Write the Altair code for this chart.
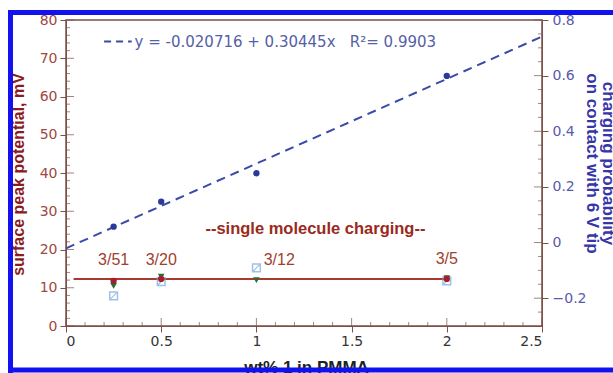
import altair as alt
import pandas as pd

# ---- data ----
wt = [0.25, 0.5, 1.0, 2.0]
prob = [0.057, 0.147, 0.249, 0.599]            # right axis (charging probability)
fit_x = [0.0, 2.5]
fit_y = [-0.0207, 0.7404]                       # dashed fit line endpoints

red_x = [0.25, 0.5, 2.0]
red_y = [11.8, 12.3, 12.3]
green_x = [0.25, 0.5, 1.0, 2.0]
green_y = [10.5, 12.9, 12.0, 12.5]
sq_x = [0.25, 0.5, 1.0, 2.0]
sq_y = [7.9, 11.6, 15.2, 11.8]

mean_x = [0.04, 2.0]
mean_y = [12.3, 12.3]

ratio_labels = ["3/51", "3/20", "3/12", "3/5"]
ratio_x = [0.25, 0.5, 1.12, 2.0]
ratio_y = [17.3, 17.3, 17.3, 17.5]

note_text = ["--single molecule charging--"]
note_x = [1.31]
note_y = [25.4]

eq_text = ["y = -0.020716 + 0.30445x\u00a0\u00a0\u00a0R\u00b2= 0.9903"]
eq_x = [0.36]
eq_y = [74.2]
leg_x = [0.2, 0.345]
leg_y = [74.4, 74.4]

# tick values
x_major = [0, 0.5, 1, 1.5, 2, 2.5]
x_minor = [round(i * 0.1, 2) for i in range(0, 26) if i % 5 != 0]
yl_major = list(range(0, 81, 10))
yl_minor = [v for v in range(0, 81, 2) if v % 10 != 0]
yr_major = [-0.2, 0, 0.2, 0.4, 0.6, 0.8]
yr_minor = [-0.25, -0.15, -0.1, -0.05, 0.05, 0.1, 0.15, 0.25, 0.3, 0.35,
            0.45, 0.5, 0.55, 0.65, 0.7, 0.75]

W, H = 476, 306
BROWN = "#7a5048"
FRAME = "#1212ee"

x_scale = alt.Scale(domain=[0, 2.5], nice=False, zero=False)
yl_scale = alt.Scale(domain=[0, 80], nice=False)
yr_scale = alt.Scale(domain=[-0.3, 0.8], nice=False, zero=False)

x_axis = alt.Axis(
    values=x_major, format="~g", tickSize=6, grid=False,
    domainColor=BROWN, tickColor=BROWN, labelOverlap=False,
    labelColor="#333333", labelFont="DejaVu Sans", labelFontSize=14, labelPadding=2,
    title="wt% 1 in PMMA", titleFont="Liberation Sans", titleFontSize=17,
    titleFontWeight="bold", titleColor="#222222", titleX=240, titleY=33,
    titleBaseline="top", titleAlign="center",
)
yl_axis = alt.Axis(
    values=yl_major, orient="left", tickSize=6, grid=False,
    domainColor=BROWN, tickColor=BROWN, labelOverlap=False,
    labelColor="#a0483e", labelFont="DejaVu Sans", labelFontSize=14, labelPadding=3,
    title="surface peak potential, mV", titleFont="Liberation Sans", titleFontSize=16,
    titleFontWeight="bold", titleColor="#8b1c1c", titleAngle=-90,
    titleX=-48, titleY=154, titleBaseline="middle", titleAlign="center",
)
yr_axis = alt.Axis(
    values=yr_major, orient="right", format="~g", tickSize=6, grid=False,
    domainColor=BROWN, tickColor=BROWN, labelOverlap=False,
    labelColor="#5a5aac", labelFont="DejaVu Sans", labelFontSize=14, labelPadding=4,
    title=["charging probability", "on contact with 6 V tip"], titleFont="Liberation Sans",
    titleFontSize=17, titleFontWeight="bold", titleColor="#3636a8", titleAngle=90,
    titleX=65, titleY=143, titleBaseline="middle", titleAlign="center", titleLineHeight=16,
)

X = alt.X("x:Q", scale=x_scale, axis=x_axis)
YL = alt.Y("y:Q", scale=yl_scale, axis=yl_axis)
YR = alt.Y("y:Q", scale=yr_scale, axis=yr_axis)

# ---- left-axis layer ----
mean_df = pd.DataFrame({"x": mean_x, "y": mean_y})
mean_line = alt.Chart(mean_df).mark_line(color="#a83a30", strokeWidth=2).encode(x=X, y=YL)

sq_df = pd.DataFrame({"x": sq_x, "y": sq_y})
sq = alt.Chart(sq_df).mark_point(shape="square", filled=False, color="#7aa8e0",
                                 strokeWidth=1.5, size=60).encode(x=X, y=YL)
sq_hatch = alt.Chart(sq_df).mark_point(shape="M-0.8,0.8L0.8,-0.8", filled=False,
                                       color="#7aa8e0", strokeWidth=1.2, size=60).encode(x=X, y=YL)

green_df = pd.DataFrame({"x": green_x, "y": green_y})
green = alt.Chart(green_df).mark_point(shape="triangle-down", filled=True, color="#2e6a34",
                                       opacity=1, size=45).encode(x=X, y=YL)

red_df = pd.DataFrame({"x": red_x, "y": red_y})
red = alt.Chart(red_df).mark_point(shape="circle", filled=True, color="#a3202a",
                                   opacity=1, size=40).encode(x=X, y=YL)

ratio_df = pd.DataFrame({"x": ratio_x, "y": ratio_y, "t": ratio_labels})
ratios = alt.Chart(ratio_df).mark_text(font="Liberation Sans", fontSize=16,
                                      color="#a0402e", baseline="middle").encode(
    x=X, y=YL, text="t:N")

note_df = pd.DataFrame({"x": note_x, "y": note_y, "t": note_text})
note = alt.Chart(note_df).mark_text(font="Liberation Sans", fontSize=16.5, fontWeight="bold",
                                   color="#9a2a20", baseline="middle").encode(
    x=X, y=YL, text="t:N")

eq_df = pd.DataFrame({"x": eq_x, "y": eq_y, "t": eq_text})
eq = alt.Chart(eq_df).mark_text(font="DejaVu Sans", fontSize=15, color="#5560a6",
                               align="left", baseline="middle").encode(
    x=X, y=YL, text="t:N")

leg_df = pd.DataFrame({"x": leg_x, "y": leg_y})
leg = alt.Chart(leg_df).mark_line(color="#3a4aa8", strokeWidth=2, strokeDash=[7, 5]).encode(
    x=X, y=YL)

# minor / inner ticks
ylmin_df = pd.DataFrame({"y": yl_minor})
ylmin = alt.Chart(ylmin_df).mark_tick(color=BROWN, thickness=1, size=4).encode(
    y=YL, x=alt.value(2))
ylmaj_df = pd.DataFrame({"y": yl_major})
ylmaj = alt.Chart(ylmaj_df).mark_tick(color=BROWN, thickness=1, size=8).encode(
    y=YL, x=alt.value(4))
xmin_df = pd.DataFrame({"x": x_minor})
xmin = alt.Chart(xmin_df).mark_tick(color=BROWN, thickness=1, size=4).encode(
    x=X, y=alt.value(H - 2))
xmaj_df = pd.DataFrame({"x": x_major})
xmaj = alt.Chart(xmaj_df).mark_tick(color=BROWN, thickness=1, size=8).encode(
    x=X, y=alt.value(H - 4))

left = alt.layer(mean_line, ylmin, ylmaj, xmin, xmaj, sq, sq_hatch, green, red,
                 ratios, note, eq, leg)

# ---- right-axis layer ----
fit_df = pd.DataFrame({"x": fit_x, "y": fit_y})
fit = alt.Chart(fit_df).mark_line(color="#3a4aa8", strokeWidth=2, strokeDash=[9, 6]).encode(
    x=X, y=YR)
pts_df = pd.DataFrame({"x": wt, "y": prob})
pts = alt.Chart(pts_df).mark_point(shape="circle", filled=True, color="#2a3a9a",
                                   opacity=1, size=40).encode(x=X, y=YR)
yrmin_df = pd.DataFrame({"y": yr_minor})
yrmin = alt.Chart(yrmin_df).mark_tick(color=BROWN, thickness=1, size=4).encode(
    y=YR, x=alt.value(W - 2))
yrmaj_df = pd.DataFrame({"y": yr_major})
yrmaj = alt.Chart(yrmaj_df).mark_tick(color=BROWN, thickness=1, size=8).encode(
    y=YR, x=alt.value(W - 4))
right = alt.layer(fit, yrmin, yrmaj, pts)

# ---- picture frame (left, top, bottom edges) ----
frame_df = pd.DataFrame({"a": [0]})
frame_left = alt.Chart(frame_df).mark_rule(color=FRAME, strokeWidth=5).encode(
    x=alt.value(-55.5), y=alt.value(-10), y2=alt.value(H + 50))
frame_top = alt.Chart(frame_df).mark_rule(color=FRAME, strokeWidth=5).encode(
    x=alt.value(-58), x2=alt.value(W + 71), y=alt.value(-7.5))
frame_bottom = alt.Chart(frame_df).mark_rule(color=FRAME, strokeWidth=5).encode(
    x=alt.value(-58), x2=alt.value(W + 71), y=alt.value(H + 44))

chart = alt.layer(left, right, frame_left, frame_top, frame_bottom).resolve_scale(
    y="independent").properties(
    width=W, height=H,
    autosize=alt.AutoSizeParams(type="none"),
    padding={"left": 66, "top": 20, "right": 71, "bottom": 47},
    background="white",
).configure_view(stroke=BROWN, strokeWidth=1.5)

chart.save("out.html", embed_options={"renderer": "svg", "actions": False})
